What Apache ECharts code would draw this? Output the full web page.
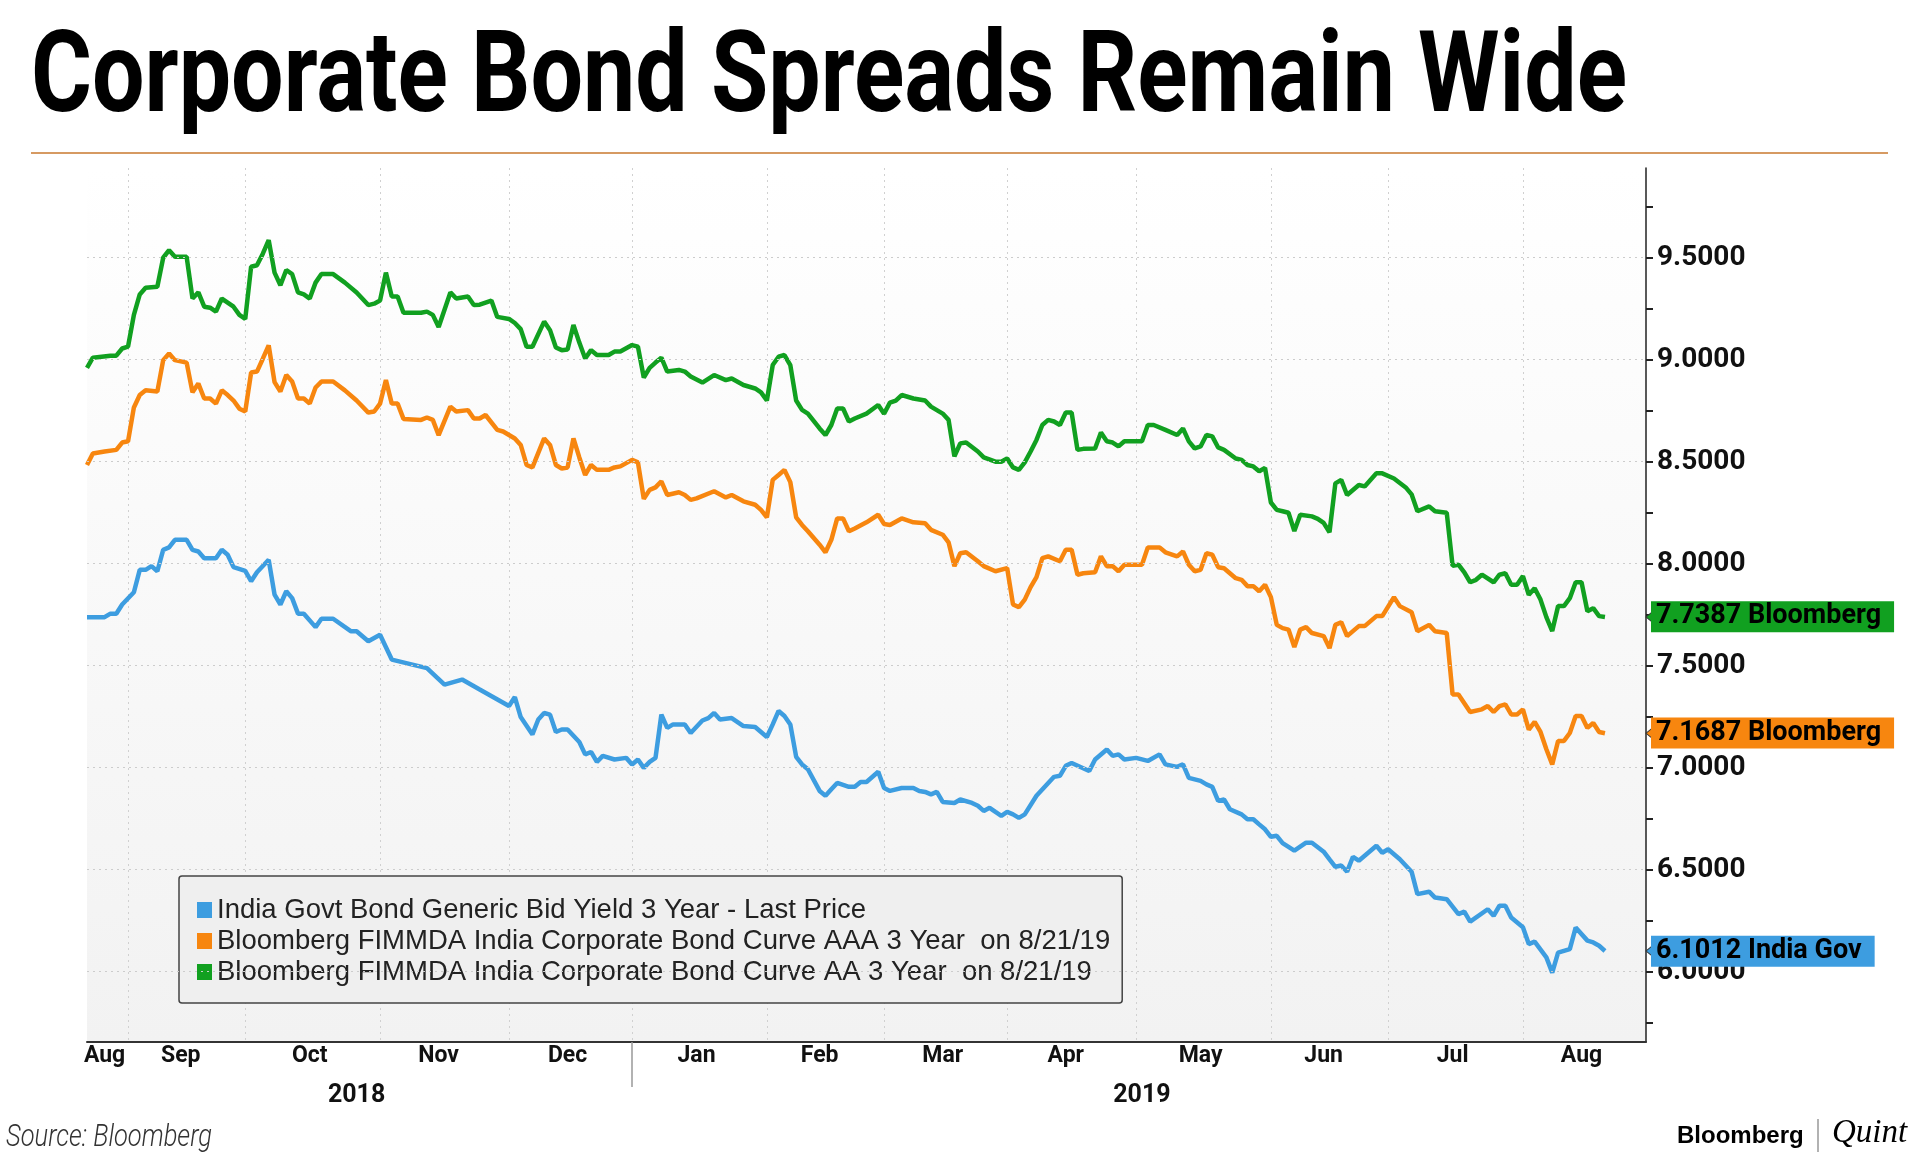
<!DOCTYPE html>
<html>
<head>
<meta charset="utf-8">
<script src="https://cdn.jsdelivr.net/npm/echarts@6/dist/echarts.min.js"></script>
<style>
html,body{margin:0;padding:0;background:#ffffff;}
#chart{width:1920px;height:1158px;}
</style>
</head>
<body>
<div id="chart"></div>
<script>
// ---------- text ----------
const titleText = 'Corporate Bond Spreads Remain Wide';
const sourceText = 'Source: Bloomberg';
const seriesNames = [
  'India Govt Bond Generic Bid Yield 3 Year - Last Price',
  'Bloomberg FIMMDA India Corporate Bond Curve AAA 3 Year  on 8/21/19',
  'Bloomberg FIMMDA India Corporate Bond Curve AA 3 Year  on 8/21/19'
];
const seriesColors = ['#3d9de0', '#f7860f', '#11a020'];
const endLabelTexts = ['6.1012 India Gov', '7.1687 Bloomberg', '7.7387 Bloomberg'];
const monthNames = ['Jan','Feb','Mar','Apr','May','Jun','Jul','Aug','Sep','Oct','Nov','Dec'];

// ---------- y axis ticks ----------
const yLabelValues = [6.0, 6.5, 7.0, 7.5, 8.0, 8.5, 9.0, 9.5];
const yTickValues = [5.75, 6.0, 6.25, 6.5, 6.75, 7.0, 7.25, 7.5, 7.75, 8.0, 8.25, 8.5, 8.75, 9.0, 9.25, 9.5, 9.75];

// ---------- data: trading-day index (0 = 2018-08-23) and yield ----------
const govDays = [0,3,4,5,6,8,9,10,11,12,13,14,15,17,18,19,20,22,23,24,25,27,28,29,31,32,33,34,35,36,37,39,40,42,45,46,48,50,52,58,61,64,67,72,73,74,76,77,78,79,80,81,82,84,85,86,87,88,90,92,93,94,95,96,97,98,99,100,102,103,105,106,107,108,110,112,114,116,117,118,119,120,121,122,123,125,126,127,128,130,131,132,133,135,136,137,139,141,142,143,144,145,146,148,149,151,152,153,154,155,156,157,158,159,160,162,165,166,167,168,171,172,174,175,176,177,179,181,183,184,186,187,188,190,191,192,193,194,195,197,198,199,200,201,202,203,204,206,208,209,211,212,213,214,215,216,217,220,221,222,224,226,227,229,230,232,234,235,236,239,240,241,242,243,245,246,247,249,250,251,253,254,256,257,258,259];
const govYields = [7.738,7.738,7.755,7.755,7.80,7.86,7.97,7.97,7.988,7.963,8.068,8.08,8.117,8.117,8.068,8.06,8.027,8.027,8.068,8.044,7.983,7.965,7.914,7.958,8.019,7.848,7.80,7.865,7.831,7.755,7.755,7.689,7.73,7.73,7.669,7.669,7.62,7.652,7.53,7.488,7.407,7.432,7.383,7.302,7.346,7.248,7.163,7.236,7.268,7.26,7.175,7.187,7.187,7.126,7.065,7.077,7.028,7.058,7.04,7.048,7.016,7.04,6.999,7.028,7.048,7.26,7.195,7.212,7.212,7.17,7.231,7.243,7.268,7.236,7.243,7.204,7.199,7.15,7.212,7.278,7.253,7.212,7.053,7.016,6.992,6.886,6.862,6.894,6.925,6.906,6.906,6.93,6.93,6.98,6.90,6.886,6.90,6.90,6.886,6.881,6.869,6.881,6.832,6.827,6.844,6.827,6.813,6.788,6.803,6.783,6.764,6.783,6.771,6.754,6.771,6.862,6.955,6.96,7.009,7.023,6.984,7.04,7.089,7.058,7.065,7.04,7.048,7.033,7.065,7.016,7.004,7.016,6.95,6.935,6.918,6.906,6.837,6.844,6.796,6.771,6.747,6.747,6.722,6.698,6.661,6.666,6.63,6.593,6.632,6.632,6.588,6.55,6.514,6.52,6.49,6.563,6.544,6.617,6.583,6.60,6.551,6.49,6.38,6.392,6.363,6.355,6.282,6.294,6.245,6.306,6.274,6.323,6.323,6.265,6.218,6.135,6.147,6.07,5.995,6.093,6.11,6.216,6.152,6.143,6.127,6.1012];

const aaaDays = [0,1,3,5,6,7,8,9,10,12,13,14,15,17,18,19,20,21,22,23,24,25,26,27,28,29,30,31,32,33,34,35,36,37,38,39,40,42,44,46,48,49,50,51,52,53,54,57,58,59,60,62,63,65,66,67,68,70,71,73,74,75,76,78,79,80,81,82,83,84,85,86,87,89,90,91,93,94,95,96,97,98,99,101,102,103,104,107,109,110,112,114,115,116,117,118,119,120,121,122,123,125,126,127,128,129,130,131,133,135,136,137,139,141,143,144,146,147,148,149,150,152,153,155,157,158,159,160,161,162,163,164,166,167,168,169,170,172,173,174,175,176,177,180,181,183,184,186,187,188,189,190,191,192,193,194,196,197,198,199,200,201,202,203,204,205,206,207,208,209,211,212,213,214,215,217,218,220,221,223,224,226,227,229,230,232,233,234,236,238,239,240,241,242,243,244,245,246,247,248,249,250,251,252,253,254,255,256,257,258,259];
const aaaYields = [8.484,8.54,8.55,8.558,8.594,8.60,8.766,8.827,8.85,8.844,8.998,9.03,8.998,8.986,8.84,8.883,8.81,8.81,8.785,8.85,8.827,8.80,8.76,8.746,8.937,8.942,9.005,9.07,8.89,8.844,8.925,8.893,8.81,8.81,8.785,8.864,8.893,8.893,8.85,8.80,8.741,8.746,8.785,8.90,8.785,8.785,8.71,8.705,8.717,8.705,8.63,8.77,8.746,8.753,8.712,8.712,8.729,8.656,8.648,8.614,8.582,8.484,8.472,8.614,8.582,8.484,8.467,8.472,8.614,8.521,8.435,8.484,8.46,8.46,8.472,8.477,8.509,8.497,8.318,8.362,8.374,8.404,8.337,8.35,8.337,8.313,8.32,8.355,8.325,8.337,8.306,8.289,8.264,8.227,8.411,8.435,8.46,8.40,8.227,8.19,8.159,8.093,8.056,8.117,8.222,8.222,8.159,8.173,8.203,8.24,8.195,8.19,8.222,8.203,8.198,8.166,8.142,8.105,7.988,8.051,8.056,8.012,7.988,7.963,7.978,7.80,7.787,7.824,7.885,7.934,8.027,8.036,8.012,8.068,8.068,7.946,7.953,7.958,8.036,7.988,7.988,7.963,7.995,7.995,8.08,8.08,8.056,8.036,8.06,7.995,7.963,7.97,8.051,8.044,7.983,7.978,7.929,7.921,7.89,7.89,7.865,7.897,7.836,7.70,7.684,7.677,7.591,7.677,7.689,7.66,7.645,7.586,7.70,7.713,7.645,7.694,7.694,7.743,7.743,7.836,7.792,7.762,7.669,7.70,7.669,7.66,7.359,7.359,7.273,7.286,7.302,7.273,7.302,7.31,7.261,7.261,7.286,7.187,7.224,7.175,7.09,7.016,7.131,7.131,7.17,7.253,7.253,7.195,7.219,7.175,7.1687];

const aaDays = [0,1,4,5,6,7,8,9,10,12,13,14,15,17,18,19,20,21,22,23,24,25,26,27,28,29,30,31,32,33,34,35,36,37,38,39,40,42,44,46,48,49,50,51,52,53,54,57,58,59,60,62,63,65,66,67,69,70,72,73,74,75,76,78,79,80,81,82,83,84,85,86,87,89,90,91,93,94,95,96,97,98,99,101,102,103,105,107,109,110,112,114,115,116,117,118,119,120,121,122,123,125,126,127,128,129,130,131,133,135,136,137,138,139,141,143,144,146,147,148,149,150,152,153,155,156,157,158,159,160,161,162,163,164,165,166,167,168,169,170,172,173,174,175,176,177,180,181,182,184,186,187,188,189,190,191,192,193,194,196,197,198,199,200,201,202,203,204,205,206,207,209,210,211,212,213,214,215,217,218,220,221,223,225,226,227,229,230,232,233,234,235,236,237,238,240,241,242,243,244,245,246,247,248,249,250,251,252,253,254,255,256,257,258,259];
const aaYields = [8.96,9.01,9.02,9.02,9.055,9.064,9.22,9.32,9.353,9.358,9.50,9.537,9.505,9.505,9.30,9.33,9.26,9.255,9.236,9.30,9.28,9.26,9.22,9.20,9.456,9.463,9.52,9.586,9.427,9.365,9.44,9.42,9.33,9.32,9.30,9.378,9.42,9.42,9.378,9.33,9.268,9.275,9.29,9.427,9.31,9.31,9.23,9.23,9.236,9.22,9.16,9.33,9.30,9.31,9.268,9.27,9.29,9.21,9.20,9.18,9.15,9.064,9.064,9.187,9.145,9.06,9.047,9.05,9.17,9.084,9.006,9.047,9.023,9.023,9.04,9.04,9.072,9.064,8.913,8.96,8.986,9.01,8.942,8.95,8.942,8.918,8.888,8.925,8.90,8.908,8.876,8.859,8.84,8.80,8.974,9.015,9.023,8.974,8.80,8.754,8.736,8.663,8.631,8.68,8.761,8.761,8.697,8.712,8.736,8.778,8.735,8.79,8.80,8.827,8.81,8.80,8.77,8.736,8.705,8.526,8.59,8.594,8.55,8.521,8.50,8.50,8.516,8.472,8.46,8.497,8.55,8.607,8.68,8.705,8.697,8.68,8.741,8.741,8.558,8.563,8.565,8.643,8.60,8.594,8.575,8.60,8.60,8.68,8.68,8.656,8.631,8.663,8.60,8.565,8.575,8.631,8.624,8.57,8.558,8.516,8.509,8.484,8.477,8.453,8.47,8.30,8.264,8.257,8.25,8.16,8.24,8.232,8.22,8.20,8.154,8.394,8.411,8.337,8.386,8.379,8.443,8.443,8.418,8.374,8.34,8.257,8.281,8.257,8.25,7.99,7.995,7.958,7.909,7.921,7.946,7.909,7.946,7.953,7.897,7.897,7.939,7.848,7.88,7.824,7.738,7.67,7.792,7.792,7.831,7.909,7.909,7.767,7.782,7.743,7.7387];

// ---------- categories: weekdays 2018-08-23 .. 2019-08-30 ----------
const categories = [];
for (let t = Date.UTC(2018, 7, 23); t <= Date.UTC(2019, 7, 30); t += 86400000) {
  const d = new Date(t);
  const wd = d.getUTCDay();
  if (wd !== 0 && wd !== 6) categories.push(d.toISOString().slice(0, 10));
}
const monthGroups = {}, yearGroups = {};
categories.forEach((c, i) => {
  const m = c.slice(0, 7), y = c.slice(0, 4);
  if (!monthGroups[m]) monthGroups[m] = [i, i]; else monthGroups[m][1] = i;
  if (!yearGroups[y]) yearGroups[y] = [i, i]; else yearGroups[y][1] = i;
});
const monthStart = new Set(), monthMid = new Set(), yearMid = new Set();
Object.values(monthGroups).forEach(g => { if (g[0] > 0) monthStart.add(g[0]); monthMid.add(Math.floor((g[0] + g[1]) / 2)); });
Object.values(yearGroups).forEach(g => yearMid.add(Math.round((g[0] + g[1]) / 2)));
const yearStart = yearGroups['2019'][0];
const lastIndex = categories.length - 1;

// measure text to emulate condensed faces by horizontal scaling
const measureCtx = document.createElement('canvas').getContext('2d');
function textWidth(font, text) { measureCtx.font = font; return measureCtx.measureText(text).width; }
const titleFont = 'bold 114px Roboto';
const titleScale = 1596 / textWidth(titleFont, titleText);
const sourceFont = 'italic 300 31px Roboto';
const sourceScale = 206 / textWidth(sourceFont, sourceText);

const chart = echarts.init(document.getElementById('chart'), null, {renderer: 'canvas'});

const seriesDefs = [
  {days: govDays, vals: govYields},
  {days: aaaDays, vals: aaaYields},
  {days: aaDays, vals: aaYields}
];

const series = [{
  type: 'line',
  name: '__grid',
  data: govDays.map((d, j) => [d, govYields[j]]),
  symbol: 'none',
  lineStyle: {opacity: 0, width: 0},
  silent: true,
  z: 1,
  markLine: {
    silent: true,
    symbol: ['none', 'none'],
    label: {show: false},
    lineStyle: {type: [2, 4], color: '#cccccc', width: 1},
    data: yLabelValues.map(v => ({yAxis: v}))
  }
}];
seriesDefs.forEach((s, i) => {
  const last = s.vals[s.vals.length - 1];
  series.push({
    type: 'line',
    name: seriesNames[i],
    data: s.days.map((d, j) => [d, s.vals[j]]),
    symbol: 'none',
    showSymbol: false,
    lineStyle: {width: 4.5, color: seriesColors[i]},
    itemStyle: {color: seriesColors[i]},
    z: 3,
    markLine: {
      silent: true,
      symbol: ['none', 'none'],
      lineStyle: {width: 0, color: 'transparent'},
      data: [{yAxis: last}],
      label: {
        show: true,
        position: 'end',
        distance: 5,
        formatter: endLabelTexts[i],
        backgroundColor: seriesColors[i],
        color: '#000',
        fontFamily: 'Roboto',
        fontWeight: 'bold',
        fontSize: 27,
        padding: [3, 13, 1, 5]
      }
    },
    markPoint: {
      silent: true,
      symbol: 'triangle',
      symbolSize: [10, 6],
      symbolRotate: 90,
      symbolOffset: [3, 0],
      itemStyle: {color: seriesColors[i], borderColor: '#333', borderWidth: 0.8},
      label: {show: false},
      data: [{coord: [lastIndex, last]}]
    }
  });
});

const option = {
  animation: false,
  backgroundColor: '#ffffff',
  grid: {
    left: 87, right: 274, top: 168, bottom: 116,
    show: true, borderWidth: 0,
    backgroundColor: new echarts.graphic.LinearGradient(0, 0, 0, 1, [
      {offset: 0, color: '#ffffff'}, {offset: 1, color: '#f2f2f2'}
    ])
  },
  legend: {
    orient: 'vertical',
    left: 179, top: 876,
    data: seriesNames.map(n => ({name: n, icon: 'rect'})),
    itemWidth: 15, itemHeight: 16, itemGap: 3,
    selectedMode: false,
    textStyle: {fontFamily: 'Liberation Sans', fontSize: 27.5, color: '#222', lineHeight: 26},
    backgroundColor: '#efefef',
    borderColor: '#444', borderWidth: 1.5, borderRadius: 3,
    padding: [20, 12, 17, 18]
  },
  xAxis: [{
    type: 'category',
    data: categories,
    position: 'bottom',
    boundaryGap: false,
    axisLine: {show: true, lineStyle: {color: '#333', width: 2}},
    axisTick: {show: true, interval: (i) => i === yearStart, length: 45, lineStyle: {color: '#999', width: 1.5}},
    axisLabel: {
      interval: (i) => monthMid.has(i),
      formatter: (v) => monthNames[parseInt(v.slice(5, 7), 10) - 1],
      margin: 3,
      fontFamily: 'Roboto', fontWeight: 'bold', fontSize: 23, color: '#111'
    },
    splitLine: {show: true, interval: (i) => monthStart.has(i), lineStyle: {type: [2, 4], color: '#d0d0d0', width: 1}}
  }, {
    type: 'category',
    data: categories,
    position: 'bottom',
    boundaryGap: false,
    axisLine: {show: false},
    axisTick: {show: false},
    splitLine: {show: false},
    axisLabel: {
      interval: (i) => yearMid.has(i),
      formatter: (v) => v.slice(0, 4),
      margin: 41,
      fontFamily: 'Roboto', fontWeight: 'bold', fontSize: 25, color: '#111'
    }
  }],
  yAxis: {
    type: 'value',
    position: 'right',
    min: 5.655, max: 9.94,
    axisLine: {show: true, lineStyle: {color: '#222', width: 1.5}},
    axisTick: {show: true, customValues: yTickValues, length: 7, lineStyle: {color: '#222', width: 2}},
    axisLabel: {
      customValues: yLabelValues,
      formatter: (v) => Number(v).toFixed(4),
      margin: 11,
      fontFamily: 'Roboto', fontWeight: 'bold', fontSize: 28, color: '#111'
    },
    splitLine: {show: false}
  },
  series: series,
  graphic: [
    {type: 'text', x: 31, y: 82, scaleX: titleScale, style: {text: titleText, font: titleFont, fill: '#000', align: 'left', verticalAlign: 'middle'}},
    {type: 'line', shape: {x1: 31, y1: 153, x2: 1888, y2: 153}, style: {stroke: '#c8782e', lineWidth: 1.5}},
    {type: 'text', x: 6, y: 1138, scaleX: sourceScale, style: {text: sourceText, font: sourceFont, fill: '#333', align: 'left', verticalAlign: 'middle'}},
    {type: 'text', x: 1677, y: 1136, style: {text: 'Bloomberg', font: 'bold 24px "Liberation Sans"', fill: '#000', verticalAlign: 'middle'}},
    {type: 'line', shape: {x1: 1818, y1: 1119, x2: 1818, y2: 1152}, style: {stroke: '#999', lineWidth: 1.5}},
    {type: 'text', x: 1832, y: 1133, style: {text: 'Quint', font: 'italic 33px "Liberation Serif"', fill: '#000', verticalAlign: 'middle'}}
  ]
};
chart.setOption(option);
</script>
</body>
</html>
